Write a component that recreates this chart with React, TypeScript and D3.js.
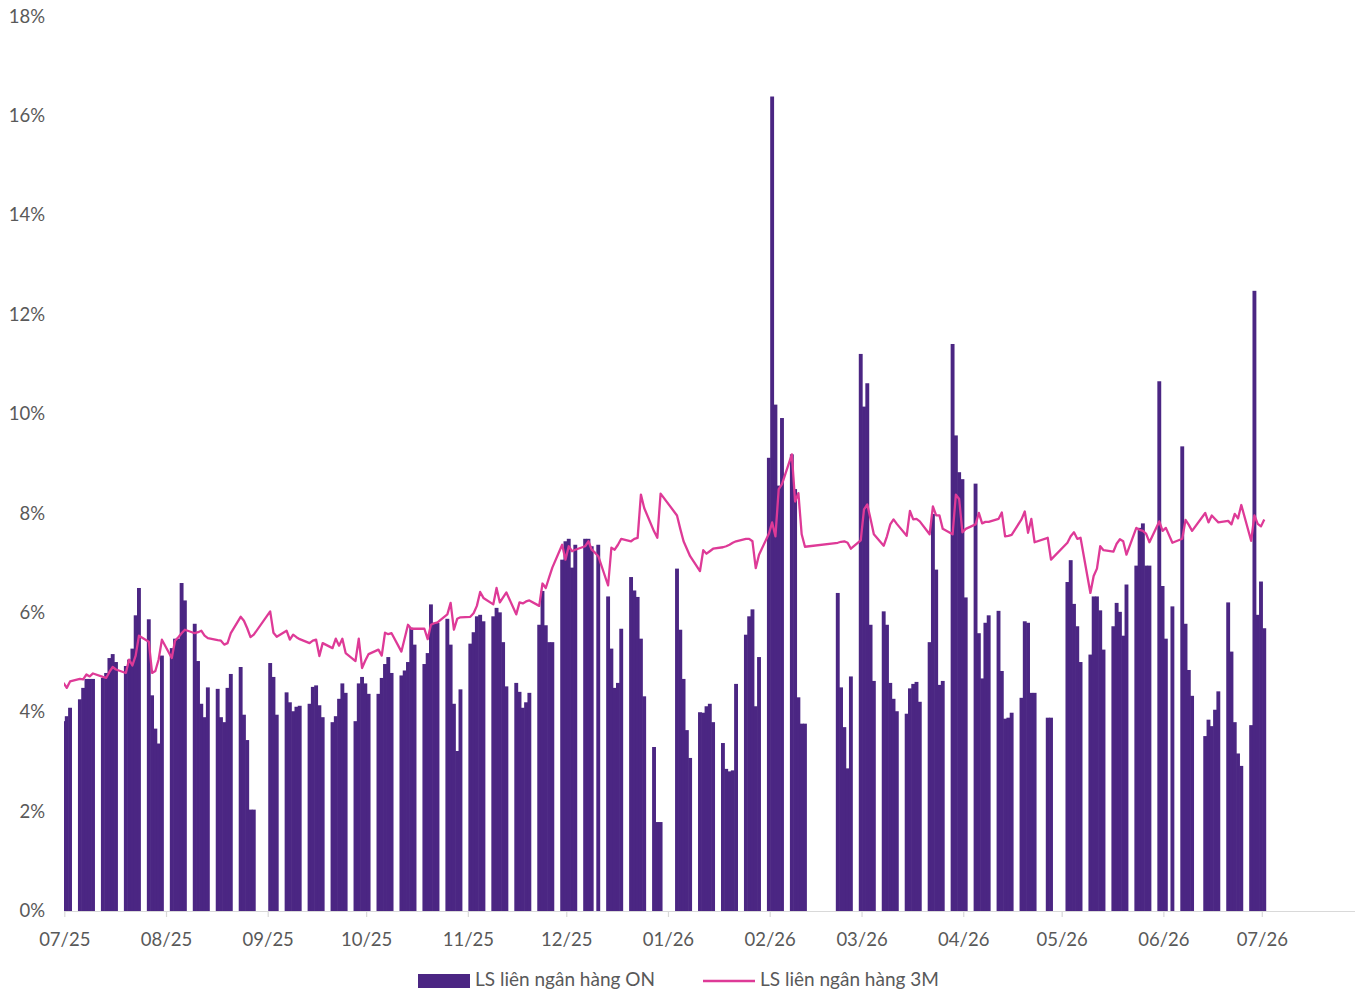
import React from "react";
import * as d3 from "d3";

// one row per week, Mon..Fri; null = no trading / holiday
const firstMonday = new Date(2025, 5, 30);

const onRate: (number | null)[][] = [
  [null, null, 3.83, 3.93, 4.1],
  [4.27, 4.5, 4.68, 4.68, 4.68],
  [4.7, 4.8, 5.1, 5.18, 5.02],
  [4.94, 5.07, 5.29, 5.96, 6.51],
  [5.88, 4.35, 3.68, 3.38, 5.15],
  [5.3, 5.49, 5.49, 6.61, 6.26],
  [5.79, 5.04, 4.18, 3.91, 4.51],
  [4.48, 3.91, 3.81, 4.5, 4.78],
  [4.92, 3.96, 3.45, 2.05, 2.05],
  [null, null, 5.0, 4.72, 3.96],
  [4.41, 4.21, 4.03, 4.12, 4.14],
  [4.18, 4.52, 4.55, 4.15, 3.91],
  [3.81, 3.93, 4.28, 4.59, 4.4],
  [3.83, 4.59, 4.72, 4.59, 4.38],
  [4.38, 4.7, 4.98, 5.12, 4.8],
  [4.75, 4.85, 5.02, 5.71, 5.37],
  [4.98, 5.2, 6.18, 5.81, 5.81],
  [5.89, 5.37, 4.18, 3.23, 4.47],
  [5.39, 5.62, 5.94, 5.97, 5.84],
  [5.94, 6.11, 6.02, 5.42, 4.53],
  [4.6, 4.42, 4.1, 4.21, 4.4],
  [5.77, 6.45, 5.76, 5.42, 5.42],
  [7.08, 7.45, 7.5, 6.92, 7.38],
  [7.5, 7.5, 7.35, null, 7.38],
  [6.34, 5.29, 4.5, 4.6, 5.69],
  [6.73, 6.46, 6.33, 5.49, 4.33],
  [3.31, 1.8, 1.8, null, null],
  [6.9, 5.67, 4.68, 3.65, 3.09],
  [4.01, 4.0, 4.13, 4.18, 3.81],
  [3.39, 2.87, 2.82, 2.84, 4.58],
  [5.57, 5.94, 6.08, 4.13, 5.12],
  [9.13, 16.4, 10.2, 8.57, 9.93],
  [9.2, 8.5, 4.31, 3.78, 3.78],
  [null, null, null, null, null],
  [6.41, 4.51, 3.71, 2.88, 4.73],
  [11.22, 10.16, 10.63, 5.77, 4.64],
  [6.04, 5.77, 4.6, 4.28, 4.03],
  [3.98, 4.49, 4.58, 4.62, 4.22],
  [5.42, 8.0, 6.88, 4.56, 4.64],
  [11.42, 9.58, 8.84, 8.7, 6.32],
  [8.61, 5.6, 4.69, 5.81, 5.96],
  [6.05, 4.84, 3.88, 3.9, 4.0],
  [4.3, 5.84, 5.81, 4.4, 4.4],
  [null, 3.9, 3.9, null, null],
  [6.63, 7.07, 6.19, 5.74, 5.02],
  [5.17, 6.34, 6.34, 6.06, 5.27],
  [5.74, 6.21, 6.03, 5.55, 6.58],
  [6.96, 7.72, 7.81, 6.96, 6.96],
  [10.67, 6.55, 5.49, null, 6.14],
  [9.36, 5.79, 4.86, 4.34, null],
  [3.53, 3.86, 3.73, 4.06, 4.43],
  [6.22, 5.23, 3.81, 3.18, 2.93],
  [3.75, 12.49, 5.97, 6.64, 5.7],
];

const rate3M: (number | null)[][] = [
  [null, null, 4.6, 4.5, 4.63],
  [4.68, 4.67, 4.77, 4.73, 4.79],
  [4.72, 4.7, 4.82, 4.92, 4.87],
  [4.8, 5.07, 4.95, 5.15, 5.55],
  [5.43, 4.8, 4.84, 5.07, 5.47],
  [5.1, 5.45, 5.52, 5.6, 5.67],
  [5.6, 5.62, 5.65, 5.55, 5.5],
  [5.46, 5.45, 5.37, 5.4, 5.6],
  [5.93, 5.85, 5.7, 5.52, 5.57],
  [null, null, 6.04, 5.61, 5.53],
  [5.65, 5.47, 5.57, 5.52, 5.48],
  [5.4, 5.45, 5.47, 5.14, 5.4],
  [5.3, 5.49, 5.35, 5.49, 5.2],
  [5.04, 5.49, 4.9, 5.05, 5.18],
  [5.27, 5.15, 5.61, 5.58, 5.6],
  [5.23, 5.5, 5.77, 5.69, 5.69],
  [5.69, 5.48, 5.77, 5.8, 5.82],
  [5.98, 6.21, 5.67, 5.89, 5.92],
  [5.93, 6.0, 6.15, 6.43, 6.31],
  [6.18, 6.51, 6.22, 6.32, 6.42],
  [5.98, 6.22, 6.2, 6.24, 6.26],
  [6.15, 6.6, 6.51, 6.72, 6.92],
  [7.38, 7.08, 7.35, 7.25, 7.28],
  [7.35, 7.45, 7.28, 7.22, 7.15],
  [6.56, 7.32, 7.28, 7.38, 7.5],
  [7.45, 7.5, 7.52, 8.39, 8.12],
  [7.65, 7.52, 8.41, null, null],
  [7.97, 7.7, 7.45, 7.3, 7.15],
  [6.85, 7.27, 7.2, 7.25, 7.3],
  [7.33, 7.35, 7.38, 7.42, 7.45],
  [7.5, 7.5, 7.45, 6.91, 7.18],
  [7.6, 7.83, 7.55, 8.5, 8.6],
  [9.2, 8.25, 8.42, 7.59, 7.34],
  [null, null, null, null, null],
  [7.42, 7.44, 7.45, 7.42, 7.3],
  [7.47, 8.09, 8.19, 7.9, 7.59],
  [7.36, 7.55, 7.79, 7.89, 7.8],
  [7.56, 8.06, 7.89, 7.9, 7.85],
  [7.59, 8.15, 7.97, 7.97, 7.7],
  [7.59, 8.39, 8.3, 7.63, 7.7],
  [7.79, 8.02, 7.81, 7.84, 7.84],
  [7.9, 8.03, 7.55, 7.56, 7.58],
  [7.89, 8.05, 7.62, 7.9, 7.43],
  [null, 7.52, 7.08, null, null],
  [7.42, 7.55, 7.63, 7.5, 7.52],
  [6.41, 6.75, 6.9, 7.35, 7.27],
  [7.24, 7.4, 7.49, 7.45, 7.18],
  [7.72, 7.68, 7.66, 7.6, 7.43],
  [7.85, 7.66, 7.72, null, 7.42],
  [7.5, 7.88, 7.78, 7.66, null],
  [8.02, 7.83, 7.97, 7.9, 7.83],
  [7.86, 7.79, 8.0, 7.91, 8.18],
  [7.46, 7.97, 7.8, 7.75, 7.89],
];

const yTicks = [0, 2, 4, 6, 8, 10, 12, 14, 16, 18];
const legendLabels = ["LS liên ngân hàng ON", "LS liên ngân hàng 3M"];

type Row = { date: Date; on: number | null; r3m: number | null };

export default function App() {
  const width = 1359;
  const height = 992;
  const left = 64;
  const right = 1355;
  const font = "Lato, 'Open Sans', sans-serif";
  const textColor = "#595959";
  const barColor = "#4B2683";
  const lineColor = "#DE3A97";

  const x = d3
    .scaleTime()
    .domain([new Date(2025, 6, 1), new Date(2026, 6, 1)])
    .range([64.8, 1262.3]);
  const y = d3.scaleLinear().domain([0, 18]).range([911.5, 17]);

  const dayW = x(new Date(2025, 6, 2)) - x(new Date(2025, 6, 1));
  // bars sit ~1.4 days left of their date in the source chart
  const cx = (d: Date) => x(d) - 1.4 * dayW;

  const mondays = d3.timeMonday.range(
    firstMonday,
    d3.timeWeek.offset(firstMonday, onRate.length)
  );
  const rows: Row[] = [];
  mondays.forEach((m, w) => {
    for (let i = 0; i < 5; i++) {
      rows.push({ date: d3.timeDay.offset(m, i), on: onRate[w][i], r3m: rate3M[w][i] });
    }
  });

  const bars = rows.filter((r) => r.on != null);
  const linePts = rows.filter((r) => r.r3m != null);
  const linePath = d3
    .line<Row>()
    .x((d) => cx(d.date))
    .y((d) => y(d.r3m as number))(linePts);

  const months = d3.timeMonth.range(new Date(2025, 6, 1), new Date(2026, 6, 2));
  const fmt = d3.timeFormat("%m/%y");

  return (
    <svg
      width={width}
      height={height}
      style={{ position: "absolute", left: 0, top: 0, background: "#fff" }}
      fontFamily={font}
    >
      <defs>
        <clipPath id="plot">
          <rect x={left} y={0} width={right - left} height={912} />
        </clipPath>
      </defs>

      {yTicks.map((t) => (
        <text
          key={t}
          x={45}
          y={y(t) + 1}
          textAnchor="end"
          dominantBaseline="middle"
          fontSize={18.5}
          fill={textColor}
        >
          {t}%
        </text>
      ))}

      <g clipPath="url(#plot)">
        {bars.map((d, i) => (
          <rect
            key={i}
            x={cx(d.date) - dayW / 2 - 0.3}
            y={y(d.on as number)}
            width={dayW + 0.6}
            height={y(0) - y(d.on as number)}
            fill={barColor}
          />
        ))}
        <path d={linePath || ""} fill="none" stroke={lineColor} strokeWidth={2.3} strokeLinejoin="round" />
      </g>

      <line x1={left} x2={right} y1={911.5} y2={911.5} stroke="#D9D9D9" strokeWidth={1.2} />
      {months.map((m) => (
        <g key={m.getTime()}>
          <line x1={x(m)} x2={x(m)} y1={911.5} y2={917} stroke="#D9D9D9" strokeWidth={1.2} />
          <text x={x(m)} y={941} textAnchor="middle" dominantBaseline="middle" fontSize={18.5} fill={textColor}>
            {fmt(m)}
          </text>
        </g>
      ))}

      <g>
        <rect x={418} y={974} width={52} height={14} fill={barColor} />
        <text x={475} y={981} dominantBaseline="middle" fontSize={19} fill={textColor}>
          {legendLabels[0]}
        </text>
        <line x1={703} x2={755} y1={981} y2={981} stroke={lineColor} strokeWidth={2.5} />
        <text x={760} y={981} dominantBaseline="middle" fontSize={19} fill={textColor}>
          {legendLabels[1]}
        </text>
      </g>
    </svg>
  );
}
